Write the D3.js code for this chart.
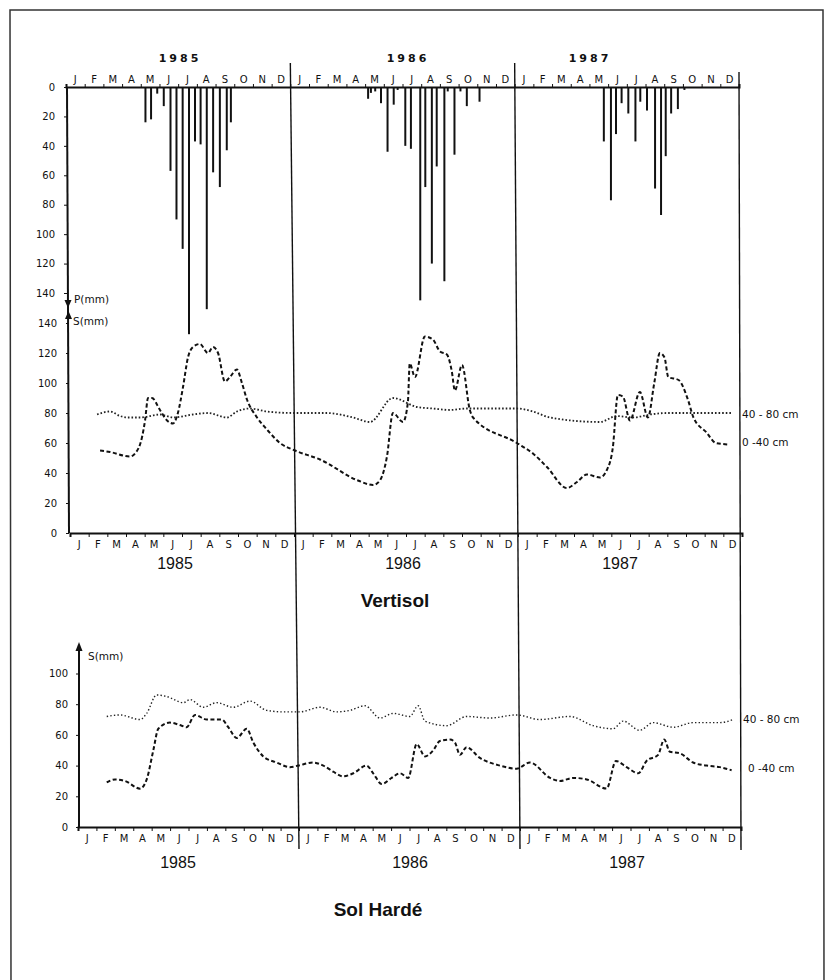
<!DOCTYPE html>
<html>
<head>
<meta charset='UTF-8'>
<title>Vertisol / Sol Hardé</title>
<script src='https://cdn.jsdelivr.net/npm/d3@7'></script>
<style>
  body {margin:0; background:#fff;}
  svg text {fill:#111;}
  .axis .tick text {font-family:'DejaVu Sans', sans-serif; font-size:10px; fill:#111;}
  .axis line, .axis path {stroke:#111;}
  .month {font-family:'DejaVu Sans', sans-serif; font-size:10px; text-anchor:middle;}
  .yearTop {font-family:'DejaVu Sans', sans-serif; font-size:11px; font-weight:bold; letter-spacing:3px; text-anchor:middle;}
  .yearBig {font-family:'Liberation Sans', Arial, sans-serif; font-size:16px; text-anchor:middle;}
  .title {font-family:'Liberation Sans', Arial, sans-serif; font-size:19px; font-weight:bold; text-anchor:middle;}
  .small {font-family:'DejaVu Sans', sans-serif; font-size:10.5px;}
</style>
</head>
<body>
<div id='chart'></div>
<script>
// months counted from 1 Jan 1985 (0) to 31 Dec 1987 (36)
var monthLetters = ['J','F','M','A','M','J','J','A','S','O','N','D'];
var years = ['1985', '1986', '1987'];
var rainTicks = [0, 20, 40, 60, 80, 100, 120, 140];
var vertTicks = [0, 20, 40, 60, 80, 100, 120, 140];
var solTicks = [0, 20, 40, 60, 80, 100];
var depthLabels = ['40 - 80 cm', '0 -40 cm'];

/* rainfall P (mm), single events */
var rainMonth = [4.25, 4.55, 4.88, 5.23, 5.59, 5.91, 6.24, 6.58, 6.9, 7.2, 7.53, 7.87, 8.23, 8.6, 8.82,
  16.16, 16.31, 16.54, 16.85, 17.2, 17.53, 17.74, 18.15, 18.45, 18.95, 19.22, 19.57, 19.83, 20.24, 20.42, 20.78, 21.1, 21.44, 22.12,
  28.77, 29.15, 29.42, 29.72, 30.08, 30.46, 30.72, 31.08, 31.51, 31.83, 32.08, 32.37, 32.73, 33.08];
var rainMm = [24, 22, 4.5, 13, 57, 90, 110, 168, 37, 39, 151, 58, 68, 43, 24,
  8, 4, 3, 11, 44, 12, 2, 40, 42, 145, 68, 120, 54, 132, 3, 46, 3, 13, 10,
  37, 77, 32, 11, 18, 37, 10, 16, 69, 87, 47, 18, 15, 2];

/* Vertisol, stock S (mm), 0-40 cm */
var vertShallowMonth = [1.61, 2.14, 3.21, 3.48, 3.86, 4.02, 4.18, 4.39, 4.82, 5.2, 5.52, 5.78, 6.05, 6.32, 6.59, 6.96,
  7.39, 7.66, 7.93, 8.3, 8.57, 8.94, 9.21, 9.48, 10.02, 10.55, 11.25, 12.05, 13.39, 15.43, 16.23, 16.6, 16.98, 17.3,
  17.84, 18.1, 18.2, 18.48, 19.01, 19.44, 19.82, 20.19, 20.45, 20.62, 21.0, 21.42, 21.59, 23.94, 24.8, 25.55, 26.62,
  27.16, 27.69, 28.39, 28.76, 29.08, 29.35, 29.62, 30.0, 30.53, 30.96, 31.3, 31.6, 31.85, 32.05, 32.6, 33.1, 33.4,
  34.1, 34.6, 35.3];
var vertShallow = [55, 54, 51, 53, 64, 75, 90, 90, 82, 75, 73, 80, 97, 117, 124, 126,
  120, 124, 120, 101, 104, 109, 100, 89, 77, 69, 60, 55, 49, 35, 32, 35, 51, 80,
  74, 87, 113, 104, 131, 129, 121, 119, 108, 95, 112, 82, 77, 60, 53, 44, 30,
  34, 39, 37, 42, 57, 92, 91, 75, 94, 77, 100, 120, 117, 104, 102, 89, 77,
  67, 60, 59];

/* Vertisol, stock S (mm), 40-80 cm */
var vertDeepMonth = [1.45, 2.14, 2.68, 3.05, 3.75, 4.82, 5.52, 6.59, 7.39, 8.41, 8.94, 9.64, 10.55, 11.94, 13.77,
  15.16, 16.07, 17.3, 18.59, 19.44, 20.35, 21.26, 23.94, 24.8, 25.71, 28.39, 29.3, 30.16, 31.07, 31.98, 33.74, 35.51];
var vertDeep = [79, 81, 78, 77, 77, 79, 77, 79, 80, 77, 81, 83, 81, 80, 80,
  77, 74, 90, 84, 83, 82, 83, 83, 81, 77, 74, 78, 77, 79, 80, 80, 80];

/* Sol Hardé, stock S (mm), 0-40 cm */
var solShallowMonth = [1.56, 2.01, 2.55, 3.37, 3.73, 4.09, 4.36, 4.99, 5.63, 5.9, 6.35, 6.99, 7.8, 8.16, 8.62, 9.16,
  9.52, 10.06, 10.79, 11.51, 11.96, 12.77, 13.32, 13.86, 14.4, 14.95, 15.67, 16.03, 16.49, 17.03, 17.48, 17.93,
  18.39, 18.84, 19.29, 19.65, 20.2, 20.47, 20.74, 21.1, 21.82, 22.91, 23.82, 24.54, 25.63, 26.17, 26.89, 27.62,
  28.7, 29.21, 29.79, 30.42, 30.87, 31.5, 31.83, 32.14, 32.68, 33.4, 34.13, 34.85, 35.49];
var solShallow = [29, 31, 30, 25, 31, 50, 64, 68, 66, 65, 73, 70, 70, 65, 58, 64,
  55, 46, 42, 39, 40, 42, 40, 36, 33, 35, 40, 35, 28, 32, 35, 32,
  54, 46, 50, 56, 57, 55, 47, 52, 45, 40, 38, 42, 32, 30, 32, 31,
  25, 43, 39, 35, 43, 47, 57, 49, 48, 42, 40, 39, 37];

/* Sol Hardé, stock S (mm), 40-80 cm */
var solDeepMonth = [1.56, 2.28, 3.37, 3.73, 4.27, 4.82, 5.72, 6.08, 6.8, 7.53, 8.43, 9.34, 10.24, 11.15, 12.05, 13.14,
  14.04, 14.77, 15.58, 16.4, 17.12, 18.02, 18.47, 18.84, 20.02, 21.1, 22.37, 23.82, 25.08, 26.71, 27.97, 29.06,
  29.6, 30.5, 31.23, 32.32, 33.4, 34.85, 35.58];
var solDeep = [72, 73, 70, 74, 86, 85, 81, 83, 78, 81, 78, 82, 76, 75, 75, 78,
  75, 76, 79, 71, 74, 72, 79, 69, 66, 72, 71, 73, 70, 72, 66, 64,
  69, 63, 68, 65, 68, 68, 70];

var width = 826;
var height = 980;

var svg = d3.select('#chart').append('svg')
  .attr('width', width)
  .attr('height', height);

/* Scales (the scanned page leans a little, so each panel has its own x range) */
var xTop = d3.scaleLinear().domain([0, 36]).range([66, 739]);
var xVer = d3.scaleLinear().domain([0, 36]).range([70, 742]);
var xSol = d3.scaleLinear().domain([0, 36]).range([78, 741]);
var yP = d3.scaleLinear().domain([0, 140]).range([87, 293]);
var yS = d3.scaleLinear().domain([0, 140]).range([533, 323]);
var ySol = d3.scaleLinear().domain([0, 100]).range([827, 673.5]);

/* page frame */
svg.append('path')
  .attr('d', 'M11,990 L10,10 L823,10 L824,990')
  .attr('fill', 'none')
  .attr('stroke', '#333')
  .attr('stroke-width', 1.5);

/* year separators, leaning with the scan */
svg.selectAll('.sep')
  .data([12, 24, 36]).enter()
  .append('line')
  .attr('class', 'sep')
  .attr('x1', d => xTop(d)).attr('y1', d => d === 36 ? 72 : 63)
  .attr('x2', d => xSol(d)).attr('y2', d => d === 36 ? 850 : 849)
  .attr('stroke', '#111')
  .attr('stroke-width', 1.4);

/* ---------- Rainfall ---------- */
var topAxis = svg.append('g')
  .attr('class', 'axis')
  .attr('transform', 'translate(0,87)')
  .call(d3.axisTop(xTop).tickValues(d3.range(0, 37)).tickSize(3).tickFormat(''));
topAxis.select('.domain').attr('stroke-width', 2);

var monthIdx = d3.range(0, 36);
svg.selectAll('.mTop')
  .data(monthIdx).enter()
  .append('text')
  .attr('class', 'month')
  .attr('x', d => xTop(d + 0.5))
  .attr('y', 83)
  .text(d => monthLetters[d % 12]);

svg.selectAll('.yTop')
  .data(years).enter()
  .append('text')
  .attr('class', 'yearTop')
  .attr('x', (d, i) => [180, 408, 590][i])
  .attr('y', 62)
  .text(d => d);

svg.append('line')
  .attr('x1', 67).attr('y1', 87)
  .attr('x2', 69).attr('y2', 533)
  .attr('stroke', '#111').attr('stroke-width', 2);

var pAxis = svg.append('g')
  .attr('class', 'axis')
  .attr('transform', 'translate(67,0)')
  .call(d3.axisLeft(yP).tickValues(rainTicks).tickSize(3).tickPadding(9));
pAxis.select('.domain').remove();

svg.selectAll('.rain')
  .data(d3.zip(rainMonth, rainMm)).enter()
  .append('line')
  .attr('class', 'rain')
  .attr('x1', d => xTop(d[0])).attr('x2', d => xTop(d[0]))
  .attr('y1', yP(0))
  .attr('y2', d => yP(d[1]))
  .attr('stroke', '#111')
  .attr('stroke-width', 2);

// P down arrow, S up arrow
svg.append('path').attr('d', 'M64.5,300 L71.5,300 L68,308 Z').attr('fill', '#111');
svg.append('path').attr('d', 'M65,319 L72,319 L68.5,311 Z').attr('fill', '#111');
svg.append('text').attr('class', 'small').attr('x', 74).attr('y', 303).text('P(mm)');
svg.append('text').attr('class', 'small').attr('x', 73).attr('y', 325).text('S(mm)');

/* ---------- Vertisol ---------- */
var sAxis = svg.append('g')
  .attr('class', 'axis')
  .attr('transform', 'translate(69,0)')
  .call(d3.axisLeft(yS).tickValues(vertTicks).tickSize(3).tickPadding(9));
sAxis.select('.domain').remove();

var verBottom = svg.append('g')
  .attr('class', 'axis')
  .attr('transform', 'translate(0,533)')
  .call(d3.axisBottom(xVer).tickValues(d3.range(0, 37)).tickSize(4).tickFormat(''));
verBottom.select('.domain').attr('stroke-width', 2);

svg.selectAll('.mVer')
  .data(monthIdx).enter()
  .append('text')
  .attr('class', 'month')
  .attr('x', d => xVer(d + 0.5))
  .attr('y', 548)
  .text(d => monthLetters[d % 12]);

svg.selectAll('.yVer')
  .data(years).enter()
  .append('text')
  .attr('class', 'yearBig')
  .attr('x', (d, i) => [175, 403, 620][i])
  .attr('y', 569)
  .text(d => d);

svg.append('text').attr('class', 'title').attr('x', 395).attr('y', 607).text('Vertisol');

var lineVer = d3.line()
  .x(d => xVer(d[0]))
  .y(d => yS(d[1]))
  .curve(d3.curveMonotoneX);

svg.append('path')
  .datum(d3.zip(vertDeepMonth, vertDeep))
  .attr('d', lineVer)
  .attr('fill', 'none')
  .attr('stroke', '#222')
  .attr('stroke-width', 1.8)
  .attr('stroke-dasharray', '1.6,2');

svg.append('path')
  .datum(d3.zip(vertShallowMonth, vertShallow))
  .attr('d', lineVer)
  .attr('fill', 'none')
  .attr('stroke', '#111')
  .attr('stroke-width', 2)
  .attr('stroke-dasharray', '4,2.5');

svg.selectAll('.dVer')
  .data(depthLabels).enter()
  .append('text')
  .attr('class', 'small')
  .attr('x', 742)
  .attr('y', (d, i) => [418, 446][i])
  .text(d => d);

/* ---------- Sol Hardé ---------- */
svg.append('line')
  .attr('x1', 79).attr('y1', 646)
  .attr('x2', 79).attr('y2', 827)
  .attr('stroke', '#111').attr('stroke-width', 2);
svg.append('path').attr('d', 'M75.5,651 L82.5,651 L79,642 Z').attr('fill', '#111');
svg.append('text').attr('class', 'small').attr('x', 88).attr('y', 660).text('S(mm)');

var solAxis = svg.append('g')
  .attr('class', 'axis')
  .attr('transform', 'translate(79,0)')
  .call(d3.axisLeft(ySol).tickValues(solTicks).tickSize(3).tickPadding(8));
solAxis.select('.domain').remove();

var solBottom = svg.append('g')
  .attr('class', 'axis')
  .attr('transform', 'translate(0,827)')
  .call(d3.axisBottom(xSol).tickValues(d3.range(0, 37)).tickSize(4).tickFormat(''));
solBottom.select('.domain').attr('stroke-width', 2);

svg.selectAll('.mSol')
  .data(monthIdx).enter()
  .append('text')
  .attr('class', 'month')
  .attr('x', d => xSol(d + 0.5))
  .attr('y', 842)
  .text(d => monthLetters[d % 12]);

svg.selectAll('.ySol')
  .data(years).enter()
  .append('text')
  .attr('class', 'yearBig')
  .attr('x', (d, i) => [178, 410, 627][i])
  .attr('y', 868)
  .text(d => d);

svg.append('text').attr('class', 'title').attr('x', 378).attr('y', 916).text('Sol Hardé');

var lineSol = d3.line()
  .x(d => xSol(d[0]))
  .y(d => ySol(d[1]))
  .curve(d3.curveMonotoneX);

svg.append('path')
  .datum(d3.zip(solDeepMonth, solDeep))
  .attr('d', lineSol)
  .attr('fill', 'none')
  .attr('stroke', '#222')
  .attr('stroke-width', 1.4)
  .attr('stroke-dasharray', '1.4,2.2');

svg.append('path')
  .datum(d3.zip(solShallowMonth, solShallow))
  .attr('d', lineSol)
  .attr('fill', 'none')
  .attr('stroke', '#111')
  .attr('stroke-width', 2)
  .attr('stroke-dasharray', '4,2.5');

svg.selectAll('.dSol')
  .data(depthLabels).enter()
  .append('text')
  .attr('class', 'small')
  .attr('x', (d, i) => [743, 748][i])
  .attr('y', (d, i) => [723, 772][i])
  .text(d => d);
</script>
</body>
</html>
